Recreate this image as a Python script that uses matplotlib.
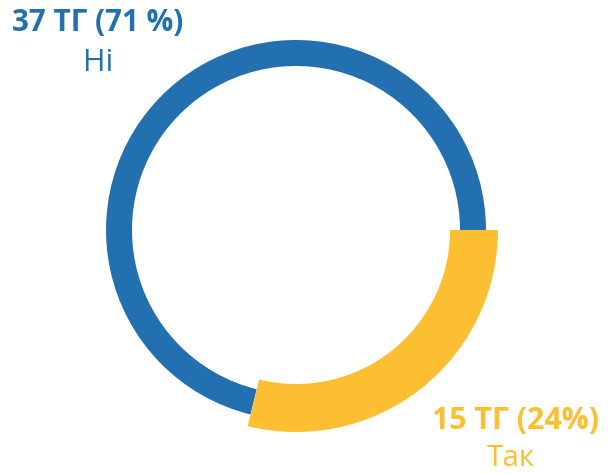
import matplotlib
matplotlib.use("Agg")
import matplotlib.pyplot as plt

categories = ["Так", "Ні"]
counts = [15, 37]
pct_labels = ["24%", "71 %"]
colors = ["#FDBF32", "#2270B0"]

plt.rcParams['font.family'] = ['Open Sans', 'DejaVu Sans']

W, H = 608, 474
fig = plt.figure(figsize=(W / 100, H / 100), dpi=100)
ax = fig.add_axes([0, 0, 1, 1])
R = 190.0
cx, cy = 296, 230

# thin blue ring (Ні)
ax.pie(counts, radius=1.0, startangle=0, counterclock=False,
       colors=["none", colors[1]],
       wedgeprops=dict(width=26 / R, linewidth=0))
# thick yellow segment (Так)
ax.pie(counts, radius=202 / R, startangle=0, counterclock=False,
       colors=[colors[0], "none"],
       wedgeprops=dict(width=48 / R, linewidth=0))

ax.set_xlim(-cx / R, (W - cx) / R)
ax.set_ylim(-(H - cy) / R, cy / R)
ax.set_aspect('equal')
ax.axis('off')

def fx(px):
    return px / W

def fy(py):
    return 1 - py / H

fig.text(fx(98), fy(23), f"{counts[1]} ТГ ({pct_labels[1]})", color=colors[1],
         fontsize=21.3, fontweight='bold', ha='center', va='center')
fig.text(fx(98), fy(63), categories[1], color=colors[1],
         fontsize=22, ha='center', va='center')
fig.text(fx(515), fy(421), f"{counts[0]} ТГ ({pct_labels[0]})", color=colors[0],
         fontsize=21.8, fontweight='bold', ha='center', va='center')
fig.text(fx(511), fy(466), categories[0], color=colors[0],
         fontsize=21.5, ha='center', va='baseline')

fig.savefig("out.png", dpi=100)
